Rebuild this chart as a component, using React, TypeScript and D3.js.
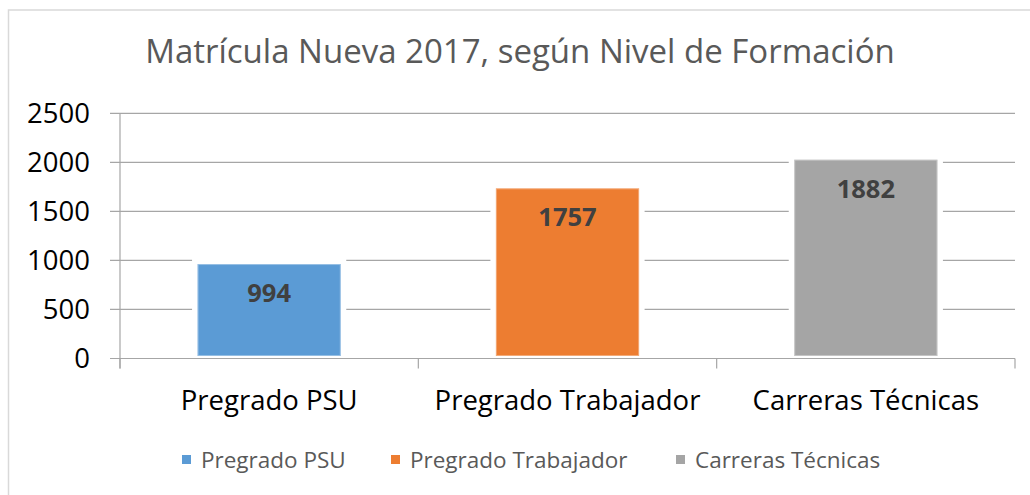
import * as d3 from "d3";

const categories = ["Pregrado PSU", "Pregrado Trabajador", "Carreras Técnicas"];
// bar heights as drawn in the picture
const barValues = [963, 1735, 2027];
// values printed on the bars
const labelValues = [994, 1757, 1882];
const colors = ["#5B9BD5", "#ED7D31", "#A5A5A5"];
const yTicks = [0, 500, 1000, 1500, 2000, 2500];
const title = "Matrícula Nueva 2017, según Nivel de Formación";

const W = 1030, H = 495;
const plot = { left: 120, right: 1015, top: 113.3, bottom: 358.5 };
const FONT = "'Open Sans', 'DejaVu Sans', sans-serif";

export default function App() {
  const x = d3.scaleBand().domain(categories).range([plot.left, plot.right]).paddingInner(0.52).paddingOuter(0.26);
  const y = d3.scaleLinear().domain([0, 2500]).range([plot.bottom, plot.top]);
  const band = d3.scaleBand().domain(categories).range([plot.left, plot.right]);
  const tickXs = [...categories.map((c) => band(c) ?? 0), plot.right];

  const legendX = [182, 391, 676];

  return (
    <svg width={W} height={H} style={{ position: "absolute", left: 0, top: 0, background: "#fff" }}>
      <rect x={8.5} y={10} width={W + 20} height={H + 20} fill="#fff" stroke="#D9D9D9" strokeWidth={1.5} />
      <text x={520} y={63} textAnchor="middle" fontFamily={FONT} fontSize={33} fill="#595959">{title}</text>

      {/* gridlines */}
      {yTicks.map((t) => (
        <g key={t}>
          <line x1={plot.left - 10} x2={plot.right} y1={y(t)} y2={y(t)} stroke="#A6A6A6" strokeWidth={1.2} />
          <text x={90} y={y(t)} dy="0.36em" textAnchor="end" fontFamily={FONT} fontSize={27.5} fill="#000">{t}</text>
        </g>
      ))}

      {/* bars */}
      {categories.map((c, i) => (
        <rect key={c} x={x(c)} y={y(barValues[i])} width={x.bandwidth()} height={y(0) - y(barValues[i]) - 2.5}
          fill={colors[i]} stroke="#fff" strokeWidth={11} paintOrder="stroke" />
      ))}
      {categories.map((c, i) => (
        <rect key={c + "edge"} x={(x(c) ?? 0) + 0.5} y={y(barValues[i]) + 0.5} width={x.bandwidth() - 1}
          height={y(0) - y(barValues[i]) - 3.5} fill="none" stroke="#fff" strokeOpacity={0.35} strokeWidth={1} />
      ))}

      {/* axes */}
      <line x1={plot.left - 10} x2={plot.right} y1={y(0)} y2={y(0)} stroke="#A6A6A6" strokeWidth={1.2} />
      <line x1={plot.left} x2={plot.left} y1={plot.top} y2={y(0) + 10} stroke="#A6A6A6" strokeWidth={1.2} />
      {tickXs.map((tx, i) => (
        <line key={i} x1={tx} x2={tx} y1={y(0)} y2={y(0) + 10} stroke="#A6A6A6" strokeWidth={1.2} />
      ))}

      {/* data labels */}
      {categories.map((c, i) => (
        <text key={c + "lab"} x={(x(c) ?? 0) + x.bandwidth() / 2} y={y(barValues[i]) + 38} textAnchor="middle"
          fontFamily={FONT} fontWeight={700} fontSize={25.5} fill="#404040">{labelValues[i]}</text>
      ))}

      {/* category labels */}
      {categories.map((c) => (
        <text key={c + "cat"} x={(x(c) ?? 0) + x.bandwidth() / 2} y={409.5} textAnchor="middle"
          fontFamily={FONT} fontSize={27.5} fill="#000">{c}</text>
      ))}

      {/* legend */}
      {categories.map((c, i) => (
        <g key={c + "leg"} transform={`translate(${legendX[i]},0)`}>
          <rect x={0} y={455} width={9} height={9} fill={colors[i]} />
          <text x={19} y={467.5} fontFamily={FONT} fontSize={22.5} fill="#595959">{c}</text>
        </g>
      ))}
    </svg>
  );
}
